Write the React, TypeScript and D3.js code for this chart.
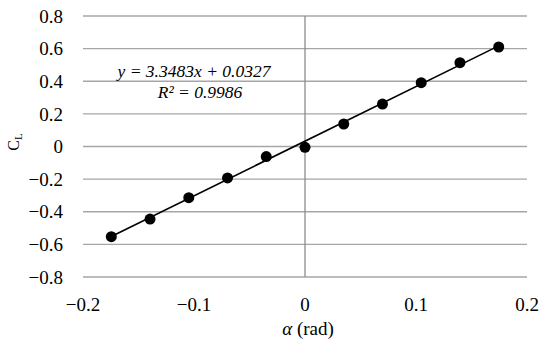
import React from "react";
import * as d3 from "d3";

const alpha = [-0.1745, -0.1396, -0.1047, -0.0698, -0.0349, 0, 0.0349, 0.0698, 0.1047, 0.1396, 0.1745];
const cl = [-0.553, -0.445, -0.314, -0.193, -0.062, -0.005, 0.138, 0.26, 0.391, 0.514, 0.61];
const xTicks = [-0.2, -0.1, 0, 0.1, 0.2];
const yTicks = [-0.8, -0.6, -0.4, -0.2, 0, 0.2, 0.4, 0.6, 0.8];
const slope = 3.3483;
const intercept = 0.0327;

const FONT = "Liberation Serif";

const fmt = (v: number) => (v === 0 ? "0" : (v < 0 ? "\u2212" : "") + Math.abs(v).toString());

export default function App() {
  const x = d3.scaleLinear().domain([-0.2, 0.2]).range([83, 527]);
  const y = d3.scaleLinear().domain([-0.8, 0.8]).range([277, 16]);

  const ext = d3.extent(alpha) as [number, number];
  const trend = d3.line<number>().x(d => x(d)).y(d => y(slope * d + intercept))(ext) || "";

  return (
    <svg
      width={550}
      height={347}
      fontFamily={FONT}
      style={{ position: "absolute", left: 0, top: 0, background: "#fff" }}
    >
      {/* gridlines */}
      {yTicks.map(t => (
        <line key={t} x1={x(-0.2)} x2={x(0.2)} y1={y(t)} y2={y(t)} stroke="#a6a6a6" strokeWidth={1.3} />
      ))}
      <line x1={x(0)} x2={x(0)} y1={y(0.8)} y2={y(-0.8)} stroke="#8c8c8c" strokeWidth={1.3} />

      {/* y tick labels */}
      {yTicks.map(t => (
        <text key={t} x={63} y={y(t)} dy="0.35em" textAnchor="end" fontSize={19} fontFamily={FONT}>
          {fmt(t)}
        </text>
      ))}

      {/* x tick labels */}
      {xTicks.map(t => (
        <text key={t} x={x(t)} y={304} dy="0.35em" textAnchor="middle" fontSize={19} fontFamily={FONT}>
          {fmt(t)}
        </text>
      ))}

      {/* trendline */}
      <path d={trend} stroke="#000" strokeWidth={1.6} fill="none" />

      {/* points */}
      {alpha.map((a, i) => (
        <circle key={a} cx={x(a)} cy={y(cl[i])} r={5.5} fill="#000" />
      ))}

      {/* equation */}
      <text x={194} y={77} textAnchor="middle" fontSize={17.5} fontStyle="italic" fontFamily={FONT}>
        y = 3.3483x + 0.0327
      </text>
      <text x={200} y={98} textAnchor="middle" fontSize={17.5} fontStyle="italic" fontFamily={FONT}>
        R² = 0.9986
      </text>

      {/* axis titles */}
      <text transform="translate(18.5,142) rotate(-90)" textAnchor="middle" fontSize={16} fontFamily={FONT}>
        <tspan>C</tspan>
        <tspan fontSize={11} dy={3}>L</tspan>
      </text>
      <text x={x(0) + 3} y={335} textAnchor="middle" fontSize={19} fontFamily={FONT}>
        <tspan fontStyle="italic">α</tspan>
        <tspan> (rad)</tspan>
      </text>
    </svg>
  );
}
